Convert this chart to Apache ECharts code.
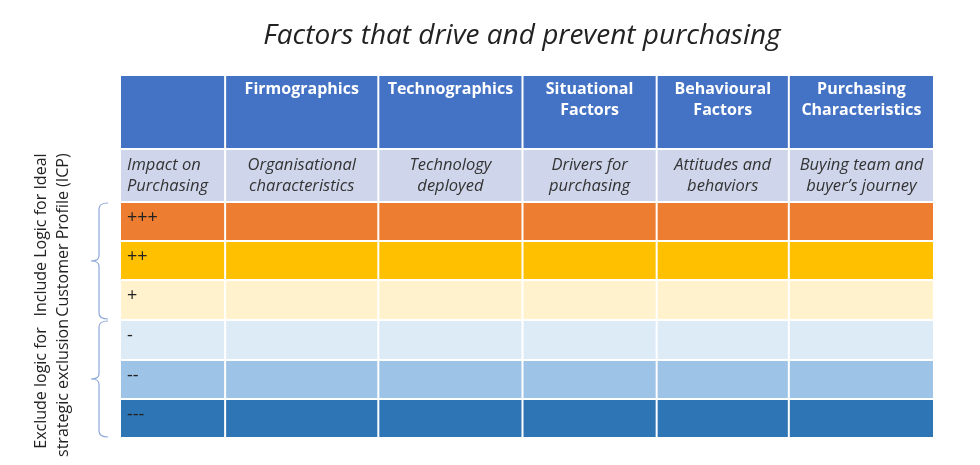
<!DOCTYPE html>
<html><head><meta charset="utf-8">
<script src="https://cdn.jsdelivr.net/npm/echarts@6/dist/echarts.min.js"></script>
<style>html,body{margin:0;padding:0;background:#fff}#c{width:980px;height:465px}</style>
</head><body><div id="c"></div>
<script>
// ---- data ----
const title = 'Factors that drive and prevent purchasing';
const columns = ['', 'Firmographics', 'Technographics', 'Situational\nFactors', 'Behavioural\nFactors', 'Purchasing\nCharacteristics'];
const descriptions = ['Impact on\nPurchasing', 'Organisational\ncharacteristics', 'Technology\ndeployed', 'Drivers for\npurchasing', 'Attitudes and\nbehaviors', 'Buying team and\nbuyer\u2019s journey'];
const impactLevels = ['+++', '++', '+', '-', '--', '---'];
const groupLabels = ['Include Logic for Ideal\nCustomer Profile (ICP)', 'Exclude logic for\nstrategic exclusion'];
const groupRows = [[0, 2], [3, 5]]; // impact rows covered by each group

// ---- layout / style (not data) ----
const colEdges = [0, 105, 258, 402, 536, 668, 813];
const rowEdges = [0, 74, 127, 166, 205, 245, 285, 324, 363];
const headerColor = '#4472C4';
const descColor = '#CFD5EA';
const levelColors = ['#ED7D31', '#FFC000', '#FFF2CC', '#DDEBF7', '#9DC3E6', '#2E75B6'];
const FONT = 'Open Sans';
const labelCenters = [235, 388];

// build cells: [col, row, kind]
const cells = [];
columns.forEach((c, i) => cells.push([i, 0, 'h']));
descriptions.forEach((d, i) => cells.push([i, 1, 'd']));
impactLevels.forEach((lv, r) => {
  for (let i = 0; i < columns.length; i++) cells.push([i, r + 2, 'l']);
});

function renderCell(params, api) {
  const ci = api.value(0), ri = api.value(1);
  const kind = cells[params.dataIndex][2];
  const p0 = api.coord([colEdges[ci], rowEdges[ri]]);
  const p1 = api.coord([colEdges[ci + 1], rowEdges[ri + 1]]);
  const x = p0[0] + 1, y = p0[1] + 1, w = p1[0] - p0[0] - 2, h = p1[1] - p0[1] - 2;
  let fill, text = '', tstyle = null;
  if (kind === 'h') {
    fill = headerColor;
    text = columns[ci];
    tstyle = {x: x + w / 2, y: y + 3, align: 'center', verticalAlign: 'top', fill: '#fff',
      font: 'bold 16px "' + FONT + '"', lineHeight: 21};
  } else if (kind === 'd') {
    fill = descColor;
    text = descriptions[ci];
    tstyle = ci === 0
      ? {x: x + 6, y: y + h / 2, align: 'left', verticalAlign: 'middle', fill: '#333',
         font: 'italic 16.5px "' + FONT + '"', lineHeight: 21}
      : {x: x + w / 2, y: y + h / 2, align: 'center', verticalAlign: 'middle', fill: '#333',
         font: 'italic 16.5px "' + FONT + '"', lineHeight: 21};
  } else {
    const lr = ri - 2;
    fill = levelColors[lr];
    if (ci === 0) {
      text = impactLevels[lr];
      tstyle = {x: x + 6, y: y + 15, align: 'left', verticalAlign: 'middle', fill: '#222',
        font: '18px "' + FONT + '"'};
    }
  }
  const children = [{type: 'rect', shape: {x, y, width: w, height: h}, style: {fill}}];
  if (text) children.push({type: 'text', style: Object.assign({text}, tstyle)});
  return {type: 'group', children};
}

function renderBracket(params, api) {
  const k = params.dataIndex;
  const gr = groupRows[k];
  const yTop = api.coord([0, rowEdges[gr[0] + 2]])[1];
  const yBot = api.coord([0, rowEdges[gr[1] + 3]])[1];
  const ym = (yTop + yBot) / 2;
  const xr = 108, xv = 99, xt = 91;
  const t = yTop + 1, b = yBot - 1;
  return {type: 'group', children: [
    {type: 'path',
     shape: {pathData:
       `M${xr} ${t} Q${xv} ${t} ${xv} ${t + 6} L${xv} ${ym - 5} Q${xv} ${ym} ${xt} ${ym} ` +
       `Q${xv} ${ym} ${xv} ${ym + 5} L${xv} ${b - 6} Q${xv} ${b} ${xr} ${b}`},
     style: {fill: 'none', stroke: '#8EA9D8', lineWidth: 1.2}},
    {type: 'text', x: 52, y: labelCenters[k], rotation: Math.PI / 2,
     style: {text: groupLabels[k], align: 'center', verticalAlign: 'middle', fill: '#222',
       font: '16px "' + FONT + '"', lineHeight: 22}}
  ]};
}

const chart = echarts.init(document.getElementById('c'));
chart.setOption({
  animation: false,
  title: {text: title, left: 517, top: 17, textAlign: 'center',
    textStyle: {fontFamily: FONT, fontStyle: 'italic', fontWeight: 'normal', fontSize: 28, color: '#222'}},
  grid: {left: 120, right: 46, top: 75, bottom: 27},
  xAxis: {type: 'value', min: colEdges[0], max: colEdges[colEdges.length - 1], show: false},
  yAxis: {type: 'value', min: rowEdges[0], max: rowEdges[rowEdges.length - 1], inverse: true, show: false},
  series: [
    {type: 'custom', renderItem: renderCell, data: cells.map(c => [c[0], c[1]]), silent: true, clip: false},
    {type: 'custom', renderItem: renderBracket, data: groupRows.map((g, i) => [0, g[0]]), silent: true, clip: false}
  ]
});
</script>
</body></html>
